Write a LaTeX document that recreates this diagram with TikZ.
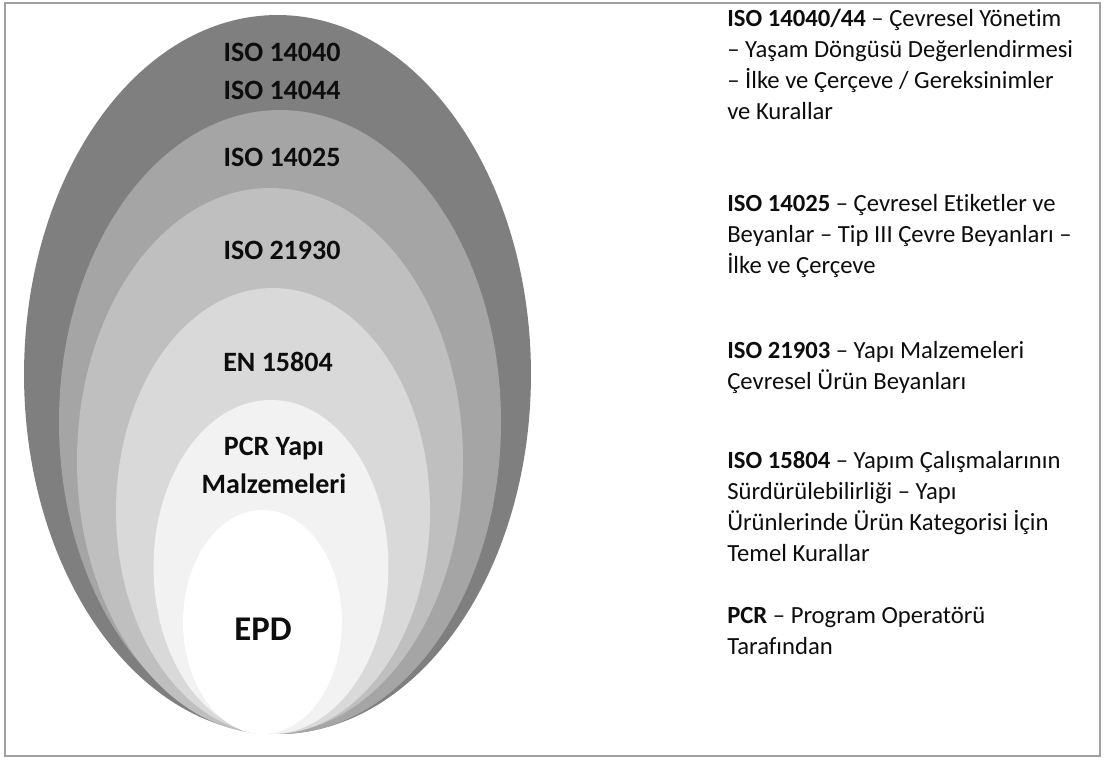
\documentclass[tikz,border=0pt]{standalone}
\usepackage{fontspec}
\setmainfont{Carlito}[Ligatures=CommonOff]
\usetikzlibrary{positioning}
\definecolor{Frame}{HTML}{A0A0A0}
\definecolor{RingA}{HTML}{7F7F7F}
\definecolor{RingB}{HTML}{A5A5A5}
\definecolor{RingC}{HTML}{BFBFBF}
\definecolor{RingD}{HTML}{D9D9D9}
\definecolor{RingE}{HTML}{F2F2F2}
\definecolor{Ink}{HTML}{0D0D0D}
\tikzset{
  ringlabel/.style={text=Ink,font=\bfseries\fontsize{21}{28.5}\selectfont,align=center,inner sep=0pt},
  corelabel/.style={text=Ink,font=\bfseries\fontsize{26}{30}\selectfont,inner sep=0pt},
  note/.style={text=Ink,anchor=north west,align=left,inner sep=0pt,font=\fontsize{18.5}{23.25}\selectfont}
}

\begin{document}
\begin{tikzpicture}[x=0.75pt,y=-0.75pt]
      \useasboundingbox (0,0) rectangle (1106,760);
      \draw[Frame,line width=1.1pt] (5,3) rectangle (1100,756);
      % nested rings, outermost first
      \fill[RingA] (277.5,374.5) ellipse [x radius=190.1pt,y radius=269.6pt];
      \fill[RingB] (280,422) ellipse [x radius=165.75pt,y radius=234pt];
      \fill[RingC] (270,461) ellipse [x radius=144.75pt,y radius=204.75pt];
      \fill[RingD] (273,511) ellipse [x radius=117.75pt,y radius=167.25pt];
      \fill[RingE] (271,567) ellipse [x radius=88.1pt,y radius=125.25pt];
      \fill[white] (262.5,622) ellipse [x radius=59.6pt,y radius=84pt];
      \node[ringlabel] (iso4040) at (282,71) {ISO 14040\\ISO 14044};
      \node[ringlabel] (iso4025) at (282,157) {ISO 14025};
      \node[ringlabel] (iso1930) at (282,250) {ISO 21930};
      \node[ringlabel] (en5804) at (278,362) {EN 15804};
      \node[ringlabel] (pcr) at (274,465) {PCR Yapı\\Malzemeleri};
      \node[corelabel] (epd) at (263,629) {EPD};
      % explanations on the right
      \node[note] (n4040) at (727,9) {\textbf{ISO 14040/44} – Çevresel Yönetim\\– Yaşam Döngüsü Değerlendirmesi\\– İlke ve Çerçeve / Gereksinimler\\ve Kurallar};
      \node[note] (n4025) at (727,194) {\textbf{ISO 14025} – Çevresel Etiketler ve\\Beyanlar – Tip III Çevre Beyanları –\\İlke ve Çerçeve};
      \node[note] (n1903) at (727,341) {\textbf{ISO 21903} – Yapı Malzemeleri\\Çevresel Ürün Beyanları};
      \node[note] (n5804) at (727,451) {\textbf{ISO 15804} – Yapım Çalışmalarının\\Sürdürülebilirliği – Yapı\\Ürünlerinde Ürün Kategorisi İçin\\Temel Kurallar};
      \node[note] (npcr) at (727,607) {\textbf{PCR} – Program Operatörü\\Tarafından};
    \end{tikzpicture}
\end{document}
